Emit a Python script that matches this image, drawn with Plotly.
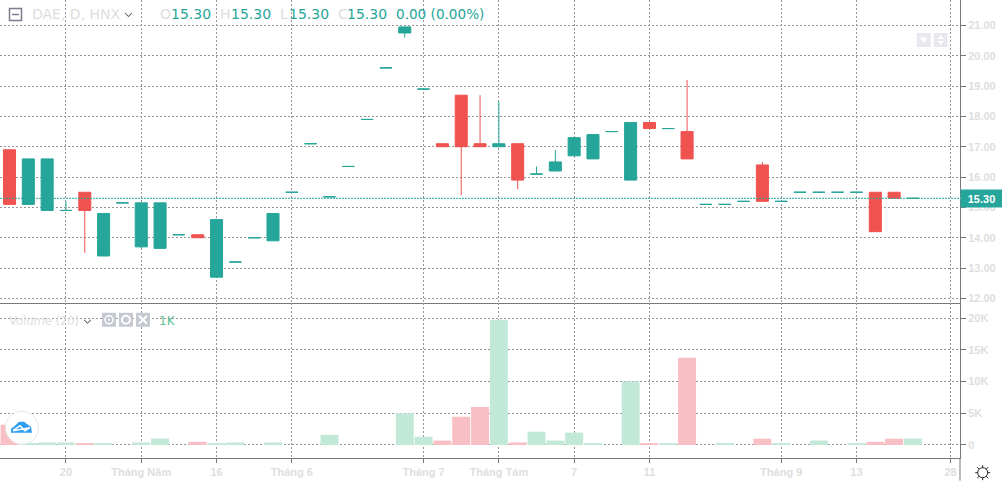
import plotly.graph_objects as go
from plotly.subplots import make_subplots

# daily candles, one entry per bar
opens = [16.9, 15.1, 14.9, 14.9, 15.5, 14.8, 15.15, 15.15, 15.15, 14.1, 14.1, 14.6, 13.2, 14.0, 14.8, 15.5, 17.1,
         15.35, 16.35, 17.9, 19.6, 20.95, 18.9, 17.1, 18.7, 17.1, 17.1, 17.1, 16.1, 16.5, 17.3, 17.4, 17.5,
         17.8, 17.8, 17.6, 17.5, 15.1, 15.1, 15.2, 16.4, 15.2, 15.5, 15.5, 15.5, 15.5, 15.5, 15.5, 15.3]
highs = [16.9, 16.6, 16.6, 15.2, 15.5, 14.8, 15.15, 15.15, 15.15, 14.1, 14.1, 14.6, 13.2, 14.0, 14.8, 15.5, 17.1,
         15.35, 16.35, 17.9, 19.6, 20.95, 18.9, 17.1, 18.7, 18.7, 18.5, 17.1, 16.35, 16.9, 17.3, 17.4, 17.5,
         17.8, 17.8, 17.6, 19.2, 15.1, 15.1, 15.2, 16.5, 15.2, 15.5, 15.5, 15.5, 15.5, 15.5, 15.5, 15.3]
lows = [15.1, 15.1, 14.9, 14.9, 13.5, 13.4, 15.15, 13.65, 13.65, 14.1, 14.0, 12.7, 13.2, 14.0, 13.9, 15.5, 17.1,
        15.35, 16.35, 17.9, 19.6, 20.6, 18.9, 17.0, 15.4, 17.0, 17.0, 15.6, 16.1, 16.2, 16.7, 16.6, 17.5,
        15.9, 17.6, 17.6, 16.6, 15.1, 15.1, 15.2, 15.2, 15.2, 15.5, 15.5, 15.5, 15.5, 14.2, 15.3, 15.3]
closes = [15.1, 16.6, 16.6, 14.9, 14.9, 13.4, 15.15, 13.7, 13.65, 14.1, 14.0, 12.7, 13.2, 14.0, 13.9, 15.5, 17.1,
          15.35, 16.35, 17.9, 19.6, 20.75, 18.9, 17.0, 17.0, 17.0, 17.0, 15.9, 16.1, 16.2, 16.7, 16.6, 17.5,
          15.9, 17.6, 17.6, 16.6, 15.1, 15.1, 15.2, 15.2, 15.2, 15.5, 15.5, 15.5, 15.5, 14.2, 15.3, 15.3]
volumes = [3200, 200, 400, 400, 200, 200, 0, 400, 1000, 0, 500, 200, 400, 0, 400, 0, 0,
           1600, 0, 0, 0, 5000, 1300, 700, 4450, 6000, 19750, 400, 2100, 700, 1950, 200, 0,
           10000, 200, 200, 13750, 0, 200, 0, 1000, 200, 0, 700, 0, 200, 500, 1000, 1000]
red_bars = [0, 4, 10, 23, 24, 25, 27, 34, 36, 40, 46, 47]
last_price = 15.30

x_ticks = [3, 7, 11, 15, 22, 26, 30, 34, 41, 45, 50]
x_labels = ["20", "Tháng Năm", "16", "Tháng 6", "Tháng 7", "Tháng Tám", "7", "11", "Tháng 9", "13", "28"]
price_ticks = [12, 13, 14, 15, 16, 17, 18, 19, 20, 21]
volume_ticks = [0, 5000, 10000, 15000, 20000]
volume_labels = ["0", "5K", "10K", "15K", "20K"]

TEAL = "#26a69a"
RED = "#ef5350"
TEAL_SOFT = "#c2e8d8"
RED_SOFT = "#f8c0c5"
GRID = "#969696"
AXIS = "#787878"
FAINT = "#dedede"
W, H = 1002, 481
PLOT_R, PLOT_B, PANE = 960.3, 458.3, 303.3
ICON = "#c6c8d2"


def px(x):
    return x / PLOT_R


def py(y):
    return 1 - y / PLOT_B


def candles(indexes, color):
    return go.Candlestick(
        x=indexes,
        open=[opens[i] for i in indexes],
        high=[highs[i] for i in indexes],
        low=[lows[i] for i in indexes],
        close=[closes[i] for i in indexes],
        whiskerwidth=0,
        increasing={"line": {"color": color, "width": 1}, "fillcolor": color},
        decreasing={"line": {"color": color, "width": 1}, "fillcolor": color},
        showlegend=False,
    )


def label(text, x, y, color=FAINT, size=14, family="DejaVu Sans"):
    fig.add_annotation(
        text=text, x=px(x), y=py(y), xref="paper", yref="paper", xanchor="left", yanchor="middle",
        showarrow=False, font={"family": family, "size": size, "color": color}, borderpad=0, borderwidth=0,
    )


def shape(kind, x0, y0, x1, y1, **kw):
    fig.add_shape(type=kind, x0=px(x0), y0=py(y0), x1=px(x1), y1=py(y1), xref="paper", yref="paper", **kw)


def path(points, **kw):
    coords = " L".join(f"{px(x):.5f},{py(y):.5f}" for x, y in points)
    fig.add_shape(type="path", path=f"M{coords} Z", xref="paper", yref="paper", **kw)


teal_bars = [i for i in range(len(opens)) if i not in red_bars]

fig = make_subplots(rows=2, cols=1, shared_xaxes=True, vertical_spacing=0, row_heights=[PANE, PLOT_B - PANE])
fig.add_trace(candles(teal_bars, TEAL), row=1, col=1)
fig.add_trace(candles(red_bars, RED), row=1, col=1)
fig.add_trace(
    go.Bar(
        x=list(range(len(volumes))),
        y=volumes,
        marker={"color": [RED_SOFT if i in red_bars else TEAL_SOFT for i in range(len(volumes))], "line": {"width": 0}},
        showlegend=False,
    ),
    row=2,
    col=1,
)

tick_font = {"family": "Liberation Sans", "size": 11, "color": FAINT, "weight": "bold"}
grid = {"showgrid": True, "gridcolor": GRID, "griddash": "2px,2px", "gridwidth": 1, "zeroline": False}
fig.update_xaxes(
    range=[-0.505, 50.5], tickmode="array", tickvals=x_ticks, ticktext=x_labels, tickfont=tick_font,
    showline=True, linecolor=AXIS, linewidth=1, rangeslider_visible=False, **grid,
)
fig.update_xaxes(ticks="", showticklabels=False, row=1, col=1)
fig.update_xaxes(ticks="outside", ticklen=4, tickcolor=AXIS, row=2, col=1)
fig.update_yaxes(
    side="right", tickmode="array", tickfont=tick_font, showline=True, linecolor=AXIS, linewidth=1,
    ticks="outside", ticklen=5, tickcolor=AXIS, **grid,
)
fig.update_yaxes(
    range=[11.8465, 21.8365], tickvals=price_ticks, ticktext=[f"{t:.2f}" for t in price_ticks], row=1, col=1,
)
fig.update_yaxes(range=[-2050, 22360], tickvals=volume_ticks, ticktext=volume_labels, row=2, col=1)

# last price line and tag
fig.add_hline(y=last_price, line={"color": TEAL, "width": 1, "dash": "2px,1px"}, row=1, col=1)
fig.add_annotation(
    text=f"<b>{last_price:.2f}</b>", x=1, y=last_price, xref="paper", yref="y", xanchor="left", yanchor="middle",
    showarrow=False, width=41, height=17, bgcolor=TEAL, font={"family": "Liberation Sans", "size": 11, "color": "white"},
    borderpad=0,
)
fig.add_shape(type="line", x0=1, x1=1 + 5 / PLOT_R, y0=last_price, y1=last_price, xref="paper", yref="y",
              line={"color": "white", "width": 1})

# price axis line runs on down past the time axis
shape("line", PLOT_R, PLOT_B, PLOT_R, H, line={"color": AXIS, "width": 1})

# header text
label("DAE, D, HNX", 32, 14.5)
label("O", 160, 14.5)
label("15.30", 171, 14.5, TEAL)
label("H", 220, 14.5)
label("15.30", 231, 14.5, TEAL)
label("L", 280, 14.5)
label("15.30", 289, 14.5, TEAL)
label("C", 338, 14.5)
label("15.30", 347, 14.5, TEAL)
label("0.00 (0.00%)", 396, 14.5, TEAL, size=13.6)
path([(125, 12.5), (128.5, 16), (132, 12.5), (132, 13.5), (128.5, 17), (125, 13.5)], fillcolor="#333333", line={"width": 0})
shape("rect", 9.5, 8.5, 21.5, 20.5, line={"color": "#7b7d8c", "width": 1.5})
shape("line", 12, 14.5, 19, 14.5, line={"color": "#7b7d8c", "width": 1.5})

# volume pane header
label("Volume (20)", 9, 321, size=11.5)
path([(84, 319.5), (87.5, 323), (91, 319.5), (91, 320.5), (87.5, 324), (84, 320.5)], fillcolor="#333333", line={"width": 0})
for left in (102, 119, 136):
    shape("rect", left, 313, left + 14, 327, fillcolor=ICON, line={"width": 0})
shape("circle", 105, 316, 113, 324, line={"color": "white", "width": 1.5})
shape("circle", 108, 319, 110, 321, fillcolor="white", line={"width": 0})
shape("circle", 122, 316, 130, 324, line={"color": "white", "width": 2})
shape("line", 139, 316, 147, 324, line={"color": "white", "width": 2})
shape("line", 147, 316, 139, 324, line={"color": "white", "width": 2})
label("1K", 159, 321, "#5fbf95", size=12)

# scale buttons
shape("rect", 917, 33, 931, 47, fillcolor="#e8e9ee", line={"width": 0})
shape("rect", 934, 33, 948, 47, fillcolor="#e8e9ee", line={"width": 0})
path([(920, 37.5), (928, 37.5), (924, 43)], fillcolor="white", line={"width": 0})
path([(937.5, 39), (944.5, 39), (941, 35)], fillcolor="white", line={"width": 0})
path([(937.5, 41), (944.5, 41), (941, 45)], fillcolor="white", line={"width": 0})

# logo
shape("circle", 5.5, 411.5, 38.5, 444.5, fillcolor="white", line={"color": "#e6e6e6", "width": 1})
path(
    [(11, 433), (11, 429), (15, 426), (19, 422), (24, 422), (28, 425), (31, 427), (32, 433)],
    fillcolor="#2f9df0", line={"width": 0},
)
path([(13, 431), (20, 426), (25, 431), (30, 428)], fillcolor="rgba(0,0,0,0)", line={"color": "white", "width": 1.5})

# settings sun
shape("circle", 978, 468, 988, 478, line={"color": "#222222", "width": 1})
for x0, y0, x1, y1 in [(983, 465.5, 983, 468), (983, 478, 983, 480.5), (975.5, 473, 978, 473), (988, 473, 990.5, 473),
                       (977.5, 467.5, 979.5, 469.5), (988.5, 467.5, 986.5, 469.5), (977.5, 478.5, 979.5, 476.5),
                       (988.5, 478.5, 986.5, 476.5)]:
    shape("line", x0, y0, x1, y1, line={"color": "#222222", "width": 1})

fig.update_layout(
    width=W, height=H, margin={"l": 0, "r": W - PLOT_R, "t": 0, "b": H - PLOT_B, "pad": 0},
    template="plotly_white", paper_bgcolor="white", plot_bgcolor="white", bargap=0.045, boxgap=0.36, boxgroupgap=0,
    showlegend=False, hovermode=False,
)
fig.write_html("out.html", config={"displayModeBar": False}, post_script="document.body.style.margin='0'")
